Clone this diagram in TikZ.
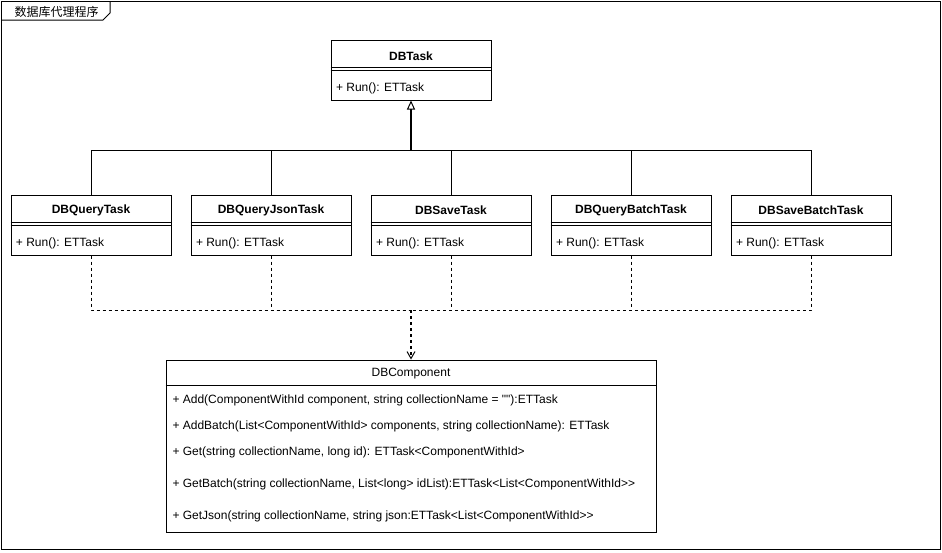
\documentclass[tikz,border=0pt]{standalone}
\usepackage{fontspec}
\setmainfont{Liberation Sans}[Ligatures=TeXOff]
\newfontfamily\cjk{Noto Sans CJK SC}
\usetikzlibrary{arrows.meta}
\begin{document}
\begin{tikzpicture}[x=1pt,y=-1pt,line width=1pt,
  clsbox/.style={draw,minimum width=160pt,minimum height=60pt,inner sep=0pt},
  ttl/.style={font=\fontsize{12}{14}\selectfont\bfseries,inner sep=0pt},
  mth/.style={font=\fontsize{12}{14}\selectfont,inner sep=0pt,anchor=west},
  dsh/.style={dash pattern=on 3pt off 3pt}]
\useasboundingbox (0,0) rectangle (942,552);
\fill[white] (0,0) rectangle (942,552);
% frame
\draw (1,1) rectangle (940,549);
\draw (1,20) -- (103,20) -- (110,13) -- (110,1);
\node[inner sep=0pt,anchor=west,font=\cjk\fontsize{12}{14}\selectfont] (frm) at (14,12) {数据库代理程序};
% DBTask
\node[clsbox] (dbt) at (411,70) {};
\node[ttl] (dbtt) at (411,56.5) {DBTask};
\draw ([yshift=-28pt]dbt.north west) -- ([yshift=-28pt]dbt.north east);
\draw ([yshift=-31pt]dbt.north west) -- ([yshift=-31pt]dbt.north east);
\node[mth] (dbtm) at ([xshift=5pt]dbt.west |- 0,88) {+ Run(): ETTask};
% children
\foreach \n/\x/\t in {q/91/DBQueryTask,qj/271/DBQueryJsonTask,s/451/DBSaveTask,qb/631/DBQueryBatchTask,sb/811/DBSaveBatchTask}{
  \node[clsbox] (\n) at (\x,225) {};
  \node[ttl] (\n t) at (\x,210.5) {\t};
  \draw ([yshift=-28pt]\n.north west) -- ([yshift=-28pt]\n.north east);
  \draw ([yshift=-31pt]\n.north west) -- ([yshift=-31pt]\n.north east);
  \node[mth] (\n m) at ([xshift=5pt]\n.west |- 0,243) {+ Run(): ETTask};
}
% DBComponent
\node[draw,minimum width=490pt,minimum height=172pt,inner sep=0pt] (comp) at (411,446) {};
\node[inner sep=0pt,font=\fontsize{12}{14}\selectfont] (compt) at (411,374) {DBComponent};
\draw ([yshift=-26pt]comp.north west) -- ([yshift=-26pt]comp.north east);
\node[mth] (m1) at (172,400.5) {+ Add(ComponentWithId component, string collectionName = ""):ETTask};
\node[mth] (m2) at (172,426.5) {+ AddBatch(List<ComponentWithId> components, string collectionName): ETTask};
\node[mth] (m3) at (172,452.5) {+ Get(string collectionName, long id): ETTask<ComponentWithId>};
\node[mth] (m4) at (172,484.5) {+ GetBatch(string collectionName, List<long> idList):ETTask<List<ComponentWithId>>};
\node[mth] (m5) at (172,516.5) {+ GetJson(string collectionName, string json:ETTask<List<ComponentWithId>>};
% inheritance
\coordinate (up) at (411,150);
\foreach \n in {q,qj,s,qb,sb}{\draw (\n.north) |- (up);}
\draw[line width=2pt,-{Triangle[open,length=9pt,width=8pt,line width=1pt]}] (up) -- (dbt.south);
% dependency
\coordinate (dn) at (411,310);
\foreach \n in {q,qj,s,qb,sb}{\draw[dsh] (\n.south) |- (dn);}
\draw[dsh,line width=1.5pt,-{Straight Barb[length=7pt,width=8pt,line width=1pt]}] (dn) -- (comp.north);
\end{tikzpicture}
\end{document}
